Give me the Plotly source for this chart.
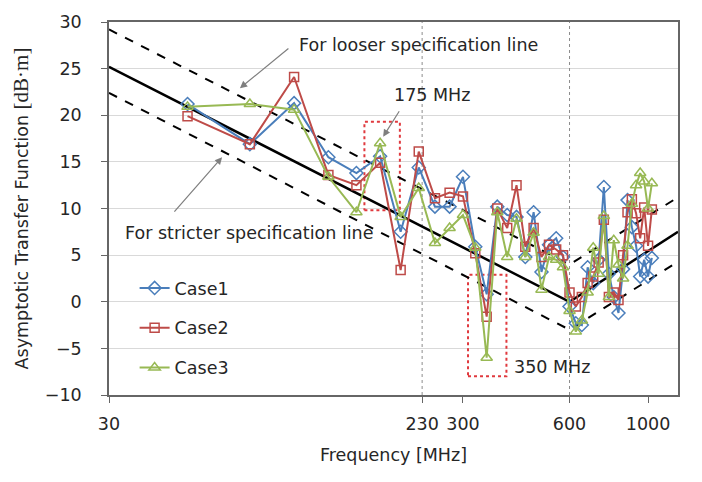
import numpy as np
import plotly.graph_objects as go

# Frequency grid [MHz]
freq = [50, 75, 100, 125, 150, 175, 200, 225, 250, 275, 300, 325, 350, 375, 400,
        425, 450, 475, 500, 525, 550, 575, 600, 625, 650, 675, 700, 725, 750, 775,
        800, 825, 850, 875, 900, 925, 950, 975, 1000, 1025]

# Asymptotic transfer function [dB·m]
case1 = [21.2, 16.9, 21.3, 15.5, 13.8, 15.6, 7.5, 14.4, 10.2, 10.2, 13.4, 5.9, 0.8, 10.2, 9.3,
         9.1, 4.8, 9.6, 3.2, 6.1, 6.8, 4.8, -0.5, -2.3, -2.5, 3.7, 2.0, 4.5, 12.3, 3.0,
         0.5, -1.2, 3.5, 10.9, 8.0, 6.0, 2.7, 4.5, 2.7, 4.7]
case2 = [19.9, 16.9, 24.1, 13.6, 12.5, 14.9, 3.4, 16.1, 11.1, 11.7, 11.3, 5.2, -1.6, 10.0, 7.9,
         12.5, 5.9, 7.9, 4.8, 6.1, 5.6, 5.0, 1.0, -0.5, 0.5, 2.0, 2.7, 4.2, 8.8, 0.5,
         1.0, 0.2, 5.0, 9.6, 11.0, 9.5, 6.8, 10.1, 6.0, 9.9]
case3 = [20.9, 21.2, 20.6, 13.4, 9.6, 17.0, 9.1, 12.2, 6.3, 7.9, 9.3, 5.8, -6.0, 9.6, 4.8,
         8.9, 4.8, 7.4, 1.3, 4.8, 4.5, 3.7, -1.0, -3.2, -2.0, 1.0, 5.8, 3.0, 9.2, 0.5,
         6.6, 4.0, 2.5, 6.0, 10.5, 12.5, 13.8, 12.9, 10.0, 12.7]

# Specification lines (vertices)
spec_freq = [30, 600, 1215]
spec_mid = [25.2, 0.0, 7.5]
spec_loose = [29.2, 4.0, 11.2]
spec_strict = [22.4, -3.0, 4.3]

# Reference frequencies and highlighted regions
ref_freq = [230, 600]
box175_f = [158, 199]
box175_v = [9.8, 19.3]
box350_f = [310, 398]
box350_v = [-8.0, 2.9]

x_ticks = [30, 230, 300, 600, 1000]
y_ticks = [-10, -5, 0, 5, 10, 15, 20, 25, 30]

FONT = "DejaVu Sans"
FS = 17.5
TXT = "#262626"
fig = go.Figure()

# reference frequency lines
for f in ref_freq:
    fig.add_trace(go.Scatter(x=[f, f], y=[-10, 30], mode="lines", showlegend=False,
                             line=dict(color="#8c8c8c", width=1, dash="dot"),
                             hoverinfo="skip"))

# highlighted boxes
for bf, bv in [(box175_f, box175_v), (box350_f, box350_v)]:
    fig.add_trace(go.Scatter(x=[bf[0], bf[1], bf[1], bf[0], bf[0]],
                             y=[bv[0], bv[0], bv[1], bv[1], bv[0]],
                             mode="lines", showlegend=False,
                             line=dict(color="#e0393e", width=2, dash="dot"),
                             hoverinfo="skip"))

# specification lines
fig.add_trace(go.Scatter(x=spec_freq, y=spec_loose, mode="lines", showlegend=False,
                         line=dict(color="black", width=2, dash="dash")))
fig.add_trace(go.Scatter(x=spec_freq, y=spec_strict, mode="lines", showlegend=False,
                         line=dict(color="black", width=2, dash="dash")))
fig.add_trace(go.Scatter(x=spec_freq, y=spec_mid, mode="lines", showlegend=False,
                         line=dict(color="black", width=2.5)))

series = [
    ("Case1", case1, "#4a7ebb", "diamond-open", 10),
    ("Case2", case2, "#be4b48", "square-open", 9),
    ("Case3", case3, "#98b954", "triangle-up-open", 10),
]
for name, vals, col, sym, sz in series:
    fig.add_trace(go.Scatter(x=freq, y=vals, mode="lines+markers", name=name,
                             legendgroup=name,
                             line=dict(color=col, width=2),
                             marker=dict(symbol=sym, size=sz, color=col,
                                         line=dict(color=col, width=1.5))))

lg = np.log10
annotations = [
    dict(x=lg(101.7), y=27.5, text="For looser specification line", xanchor="left",
         showarrow=False),
    dict(x=lg(32.9), y=7.4, text="For stricter specification line", xanchor="left",
         showarrow=False),
    dict(x=lg(189), y=22.2, text="175 MHz", xanchor="left", showarrow=False),
    dict(x=lg(412.5), y=-7.0, text="350 MHz", xanchor="left", showarrow=False),
    # arrows
    dict(x=lg(70.3), y=22.9, text="", showarrow=True, ax=50, ay=-41,
         arrowhead=2, arrowsize=1.2, arrowwidth=1.2, arrowcolor="#7f7f7f"),
    dict(x=lg(62.6), y=15.5, text="", showarrow=True, ax=-49, ay=56,
         arrowhead=2, arrowsize=1.2, arrowwidth=1.2, arrowcolor="#7f7f7f"),
    dict(x=lg(178.5), y=17.7, text="", showarrow=True, ax=17, ay=-27,
         arrowhead=2, arrowsize=1.2, arrowwidth=1.2, arrowcolor="#7f7f7f"),
]
for a in annotations:
    a.update(xref="x", yref="y", font=dict(family=FONT, size=FS, color=TXT))

fig.update_layout(
    width=702, height=482,
    margin=dict(l=109, r=24, t=22, b=87),
    paper_bgcolor="white", plot_bgcolor="white",
    font=dict(family=FONT, size=FS, color=TXT),
    annotations=annotations,
    legend=dict(x=0.045, y=0.335, xanchor="left", yanchor="top",
                bgcolor="rgba(0,0,0,0)", tracegroupgap=14,
                font=dict(family=FONT, size=FS)),
    xaxis=dict(type="log", range=[lg(30), lg(1215)], tickvals=x_ticks,
               ticktext=[str(v) for v in x_ticks], showgrid=False,
               ticks="outside", ticklen=6, tickcolor="#666", ticklabelstandoff=6,
               showline=True, linecolor="#666", linewidth=1.5, mirror=True,
               title=dict(text="Frequency [MHz]", standoff=16,
                          font=dict(family=FONT, size=FS))),
    yaxis=dict(range=[-10, 30], tickvals=y_ticks, showgrid=True,
               gridcolor="#d9d9d9", gridwidth=1, zeroline=False,
               ticks="outside", ticklen=6, tickcolor="#666", ticklabelstandoff=16,
               showline=True, linecolor="#666", linewidth=1.5, mirror=True,
               title=dict(text="Asymptotic Transfer Function "
                               "<span style='font-family:Liberation Serif;font-size:21px'>"
                               "[dB·m]</span>",
                          standoff=12, font=dict(family=FONT, size=FS))),
)

fig.write_html("out.html")
